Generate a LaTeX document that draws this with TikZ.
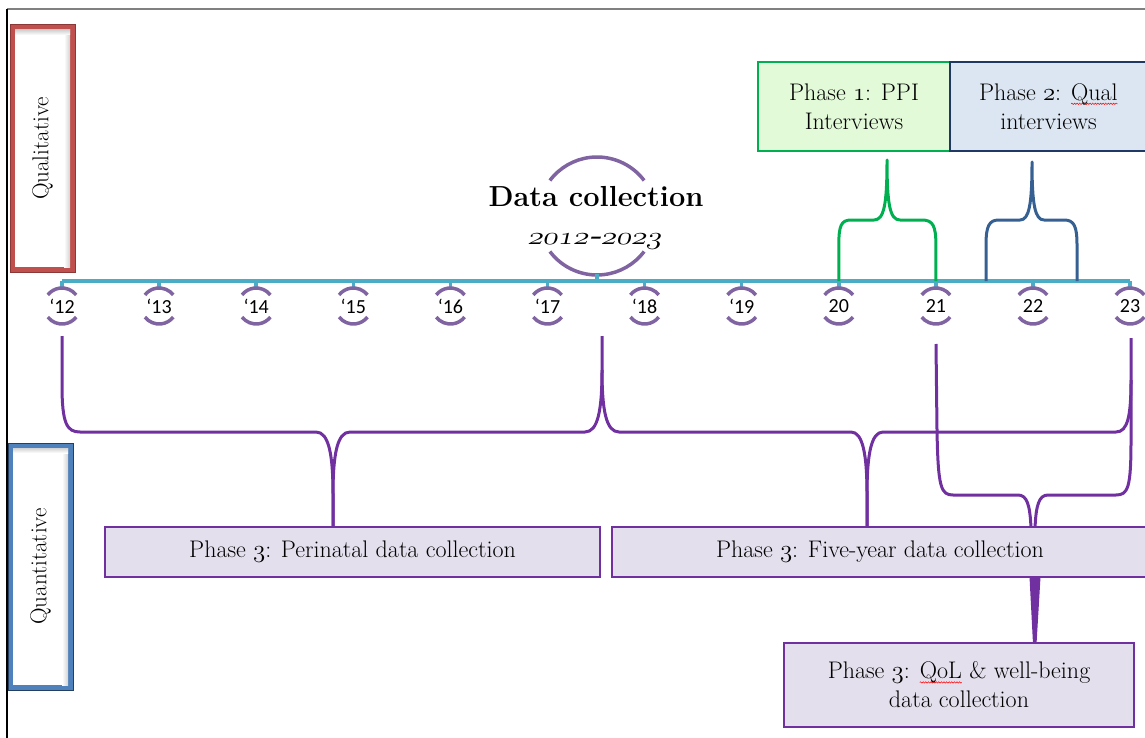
\documentclass[tikz,border=0pt]{standalone}
\usepackage{fontspec}
\usetikzlibrary{decorations.pathmorphing}
\newfontfamily\calfont{Carlito}
\newcommand\osf[1]{{\usefont{OML}{cmm}{m}{it}#1}}
\newcommand\spell[1]{\tikz[baseline=(w.base),x=1pt,y=1pt]{\node[inner sep=0pt,outer sep=0pt,minimum width=0pt,minimum height=0pt,draw=none,fill=none,anchor=base](w) at (0,0) {#1};\draw[red,line width=0.5pt,decorate,decoration={snake,amplitude=0.7pt,segment length=2.6pt}] ([yshift=-3.5pt]w.base west) -- ([yshift=-3.5pt]w.base east);}}
\definecolor{qualred}{HTML}{C0504D}
\definecolor{qualdark}{HTML}{8C3836}
\definecolor{quanblue}{HTML}{4F81BD}
\definecolor{quandark}{HTML}{243F60}
\definecolor{tealc}{HTML}{4BACC6}
\definecolor{arcp}{HTML}{8064A2}
\definecolor{brp}{HTML}{7030A0}
\definecolor{boxfill}{HTML}{E4DFEC}
\definecolor{grn}{HTML}{00B050}
\definecolor{grnfill}{HTML}{E2FAD8}
\definecolor{blfill}{HTML}{DCE6F2}
\definecolor{blborder}{HTML}{1F3864}
\definecolor{blbrace}{HTML}{366092}
\begin{document}
\begin{tikzpicture}[x=1pt,y=-1pt,
  tl/.style={draw=tealc, line width=3.5pt},
  yarc/.style={draw=arcp, line width=3.5pt},
  brace/.style={line width=3pt, line join=round},
  pbox/.style={draw=brp, line width=1.5pt, fill=boxfill, font=\fontsize{24}{29}\selectfont, align=center, inner sep=0pt},
  qbox/.style={line width=1.5pt, font=\fontsize{24}{29}\selectfont, align=center, inner sep=0pt},
  yr/.style={font=\calfont\fontsize{20}{22}\selectfont, inner sep=0pt},
  side/.style={rotate=90, font=\fontsize{23}{24}\selectfont, inner sep=0pt}]
\useasboundingbox (0,0) rectangle (1145,738);
% frame
\draw[gray, line width=1.5pt] (7,9) -- (1146,9);
\draw[black, line width=1.2pt] (7,9) -- (7,739);
% Qualitative side box
\fill[qualred] (10,25) rectangle (75,272);
\draw[qualdark, line width=1pt] (10,25) rectangle (75,272);
\fill[white] (15,30) rectangle (70,267);
\shade[left color=white, right color=gray!35] (64,30) rectangle (70,267);
\shade[top color=gray!35, bottom color=white] (15,30) rectangle (70,35);
\node[side] (qual) at (42.5,148.5) {Qualitative};
% Quantitative side box
\fill[quanblue] (8,443) rectangle (73,690);
\draw[quandark, line width=1pt] (8,443) rectangle (73,690);
\fill[white] (13,448) rectangle (68,685);
\shade[left color=white, right color=gray!35] (62,448) rectangle (68,685);
\shade[top color=gray!35, bottom color=white] (13,448) rectangle (68,453);
\node[side] (quan) at (40.5,566.5) {Quantitative};
% timeline
\foreach \lab [count=\i from 0] in {‘12,‘13,‘14,‘15,‘16,‘17,‘18,‘19,20,21,22,23} {
  \pgfmathsetmacro\xx{62+97.1*\i}
  \coordinate (t\i) at (\xx,281);
  \coordinate (c\i) at (\xx,306);
  \draw[tl] (t\i) -- (\xx,289);
  \node[yr] (y\i) at (c\i) {\lab};
  \draw[yarc] ([shift={(38:18pt)}]c\i) arc[start angle=38,end angle=142,radius=18pt];
  \draw[yarc] ([shift={(218:18pt)}]c\i) arc[start angle=218,end angle=322,radius=18pt];
}
\draw[tl] (t0) -- (t11);
% title
\coordinate (dc) at (597,216);
\draw[yarc] ([shift={(37:59pt)}]dc) arc[start angle=37,end angle=143,radius=59pt];
\draw[yarc] ([shift={(217:59pt)}]dc) arc[start angle=217,end angle=323,radius=59pt];
\draw[tl] (597,274) -- (597,281);
\node[font=\bfseries\fontsize{29}{32}\selectfont] (title) at (596,197) {Data collection};
\node[font=\fontsize{31}{34}\selectfont, shift={(595,242)}, xslant=0.22, xscale=1.25, transform shape] (years) at (0,0) {\osf{2012}\kern0.04em\rule[0.2em]{0.24em}{0.065em}\kern0.04em\osf{2023}};
% qualitative phases
\node[qbox, draw=grn, fill=grnfill, minimum width=192pt, minimum height=89pt] (ph1) at (854,106.5) {Phase \osf{1}: PPI\\Interviews};
\node[qbox, draw=blborder, fill=blfill, minimum width=197pt, minimum height=89pt] (ph2) at (1048.5,106.5) {Phase \osf{2}: \spell{Qual}\\interviews};
\draw[brace, draw=grn] (t8) -- (838.8,245) .. controls (838.8,226) and (841,220) .. (851,220) -- (874,220) .. controls (884,220) and (887,205) .. (887,160) .. controls (887,205) and (890,220) .. (900,220) -- (922,220) .. controls (933,220) and (935.9,226) .. (935.9,245) -- (t9);
\draw[brace, draw=blbrace] (986,281) -- (986,245) .. controls (986,226) and (989,220) .. (999,220) -- (1020,220) .. controls (1029,220) and (1032,205) .. (1032,162) .. controls (1032,205) and (1035,220) .. (1044,220) -- (1064,220) .. controls (1074,220) and (1077,226) .. (1077,245) -- (1077,281);
% quantitative braces
\draw[brace, draw=brp] (62,336) -- (62,385) .. controls (62,424) and (67,432) .. (80,432) -- (316,432) .. controls (329,432) and (333,455) .. (333,495) -- (333,528);
\draw[brace, draw=brp] (333,528) -- (333,495) .. controls (333,455) and (337,432) .. (350,432) -- (585,432) .. controls (598,432) and (602,410) .. (602,370) -- (602,336);
\draw[brace, draw=brp] (602,370) .. controls (602,410) and (606,432) .. (619,432) -- (851,432) .. controls (863,432) and (867,455) .. (867,495) -- (867,528);
\draw[brace, draw=brp] (867,528) -- (867,495) .. controls (867,455) and (871,432) .. (883,432) -- (1116,432) .. controls (1128,432) and (1131,415) .. (1131,380) -- (1131,338);
\draw[brace, draw=brp] (936,344) -- (937,430) .. controls (938,488) and (941,495) .. (953,495) -- (1018,495) .. controls (1027,495) and (1030,505) .. (1031,528);
\draw[brace, draw=brp] (1131,380) -- (1131,440) .. controls (1131,488) and (1128,495) .. (1116,495) -- (1048,495) .. controls (1039,495) and (1036,505) .. (1035,528);
\fill[brp] (1029.5,577) -- (1040.5,577) -- (1036.5,644) -- (1033,644) -- cycle;
% quantitative boxes
\node[pbox, minimum width=495pt, minimum height=50pt] (peri) at (352.5,552) {Phase \osf{3}: Perinatal data collection};
\node[pbox, minimum width=536pt, minimum height=50pt] (five) at (880,552) {Phase \osf{3}: Five-year data collection};
\node[pbox, minimum width=350pt, minimum height=84pt] (qol) at (959,685) {Phase \osf{3}: \spell{QoL} \& well-being\\data collection};
\end{tikzpicture}
\end{document}
